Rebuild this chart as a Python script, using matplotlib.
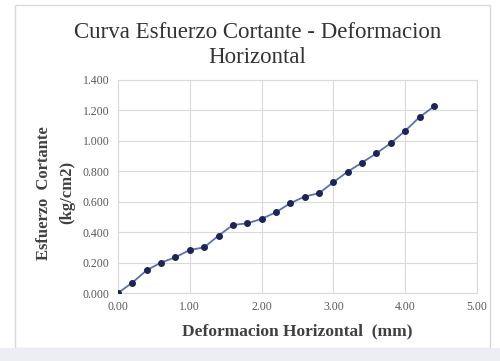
import matplotlib
matplotlib.use("Agg")
import matplotlib.pyplot as plt
from matplotlib.patches import Rectangle
from matplotlib.ticker import FormatStrFormatter, MultipleLocator

deformacion = [0.0, 0.2, 0.4, 0.6, 0.8, 1.0, 1.2, 1.4, 1.6, 1.8, 2.0, 2.2,
               2.4, 2.6, 2.8, 3.0, 3.2, 3.4, 3.6, 3.8, 4.0, 4.2, 4.4]
esfuerzo = [0.000, 0.068, 0.150, 0.200, 0.235, 0.283, 0.300, 0.377, 0.447,
            0.458, 0.487, 0.531, 0.590, 0.634, 0.656, 0.728, 0.798, 0.857,
            0.919, 0.985, 1.066, 1.156, 1.226]

title = "Curva Esfuerzo Cortante - Deformacion\nHorizontal"
xlabel = "Deformacion Horizontal  (mm)"
ylabel = "Esfuerzo  Cortante\n(kg/cm2)"

serif = ["Liberation Serif", "DejaVu Serif"]

fig = plt.figure(figsize=(5.0, 3.61), dpi=100)
fig.patch.set_facecolor("white")
fig.add_artist(Rectangle((0.03, 0.035), 0.95, 0.95, transform=fig.transFigure,
                         fill=False, edgecolor="#d9d9d9", linewidth=1.0))
fig.add_artist(Rectangle((0.0, 0.0), 1.0, 0.035, transform=fig.transFigure,
                         facecolor="#eceef4", edgecolor="none"))

ax = fig.add_axes([118/500, 1 - 293/361, (477-118)/500, (293-80)/361])
ax.plot(deformacion, esfuerzo, color="#5b70b0", linewidth=1.3, marker="o",
        markersize=4, markerfacecolor="#1c2556", markeredgecolor="#1c2556",
        zorder=3)
ax.set_xlim(0, 5)
ax.set_ylim(0, 1.4)
ax.xaxis.set_major_locator(MultipleLocator(1.0))
ax.yaxis.set_major_locator(MultipleLocator(0.2))
ax.xaxis.set_major_formatter(FormatStrFormatter("%.2f"))
ax.yaxis.set_major_formatter(FormatStrFormatter("%.3f"))
ax.grid(True, color="#d9d9d9", linewidth=0.8)
ax.set_axisbelow(True)
for s in ax.spines.values():
    s.set_color("#d9d9d9")
    s.set_linewidth(0.8)
ax.tick_params(length=0, labelsize=8.5, labelcolor="#595959", pad=6)
for lab in ax.get_xticklabels() + ax.get_yticklabels():
    lab.set_family(serif)

ax.set_xlabel(xlabel, family=serif, fontsize=12.5, fontweight="bold",
              color="#404040", labelpad=7)
ax.set_ylabel(ylabel, family=serif, fontsize=12, fontweight="bold",
              color="#404040", linespacing=1.6)
ax.yaxis.set_label_coords(-0.12, 0.47)
fig.text(0.515, 0.94, title, family=serif, fontsize=16.5,
         color="#333333", ha="center", va="top", linespacing=1.3)

fig.savefig("out.png", dpi=100)
